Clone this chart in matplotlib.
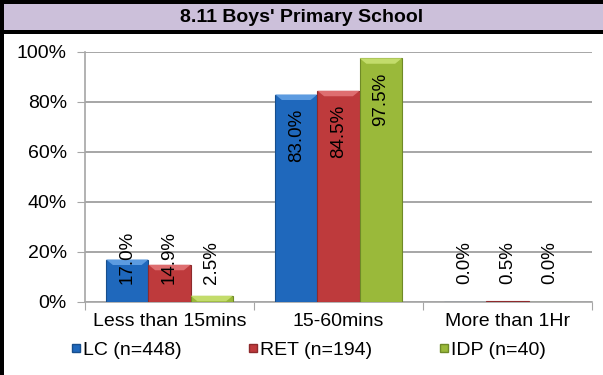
import numpy as np
import matplotlib.pyplot as plt
import matplotlib.patches as mpatches
from matplotlib.lines import Line2D

plt.rcParams['font.family'] = ['Liberation Sans', 'DejaVu Sans']

categories = ["Less than 15mins", "15-60mins", "More than 1Hr"]
series_names = ["LC (n=448)", "RET (n=194)", "IDP (n=40)"]
lc = [17.0, 83.0, 0.0]
ret = [14.9, 84.5, 0.5]
idp = [2.5, 97.5, 0.0]
yticks = [0, 20, 40, 60, 80, 100]

values = [lc, ret, idp]
fills = ["#1F68BC", "#BE3A3C", "#9AB93A"]
edges = ["#174E8C", "#8E2A2C", "#6F8A27"]
tops = ["#5C9BE0", "#DE6E70", "#C3DC6B"]

W, H = 603, 375
fig = plt.figure(figsize=(W / 100, H / 100), dpi=100)

# title band and frame
frame = fig.add_axes([0, 0, 1, 1])
frame.set_xlim(0, W)
frame.set_ylim(H, 0)
frame.axis("off")
frame.add_patch(mpatches.Rectangle((0, 3), W, 28, facecolor="#CCC0DA", edgecolor="none"))
frame.add_patch(mpatches.Rectangle((0, 0), W, 3.5, facecolor="black", edgecolor="none"))
frame.add_patch(mpatches.Rectangle((0, 30), W, 3.5, facecolor="black", edgecolor="none"))
frame.add_patch(mpatches.Rectangle((0, 0), 3.5, H, facecolor="black", edgecolor="none"))
frame.text(302, 17.5, "8.11 Boys' Primary School", ha="center", va="center",
           fontsize=14, fontweight="bold")

# plot area: x 85..592, y 52..302 in pixels
ax = fig.add_axes([85 / W, 1 - 302 / H, (592 - 85) / W, (302 - 52) / H])
ax.set_xlim(0, 3)
ax.set_ylim(0, 100)
ax.set_facecolor("none")

bw = 0.25
for i, (vals, fc, ec, tc) in enumerate(zip(values, fills, edges, tops)):
    x = np.arange(3) + 0.5 + (i - 1) * bw
    ax.bar(x, vals, width=bw, color=fc, edgecolor=ec, linewidth=0.8, zorder=3)
    # light bevel on top of each bar
    for xi, v in zip(x, vals):
        if v > 2:
            ax.add_patch(mpatches.Polygon(
                [(xi - bw / 2, v), (xi + bw / 2, v), (xi + bw / 2 - 0.04, v - 2.2),
                 (xi - bw / 2 + 0.04, v - 2.2)],
                closed=True, facecolor=tc, edgecolor="none", zorder=4))
    for xi, v in zip(x, vals):
        if v > 50:
            ax.text(xi, v - 5.6, f"{v:.1f}%", rotation=90, ha="center", va="top",
                    fontsize=13.5, zorder=5)
        else:
            ax.text(xi, 7.2, f"{v:.1f}%", rotation=90, ha="center", va="bottom",
                    fontsize=13.5, zorder=5)

ax.set_yticks(yticks)
ax.set_yticklabels([f"{t}%" for t in yticks], fontsize=14)
ax.yaxis.grid(True, color="#A6A6A6", linewidth=1.4, zorder=0)
ax.set_axisbelow(True)
ax.tick_params(axis="y", length=6, color="#A6A6A6", pad=7)

ax.set_xticks([0, 1, 2, 3])
ax.set_xticklabels([])
ax.set_xticks([0.5, 1.5, 2.5], minor=True)
ax.set_xticklabels(categories, minor=True, fontsize=14)
ax.tick_params(axis="x", which="major", length=6, color="#A6A6A6")
ax.tick_params(axis="x", which="minor", length=0, pad=8)

for side in ["top", "right"]:
    ax.spines[side].set_visible(False)
for side in ["left", "bottom"]:
    ax.spines[side].set_color("#A6A6A6")
    ax.spines[side].set_linewidth(1.2)

handles = [Line2D([], [], marker="s", linestyle="none", markersize=6,
                  markerfacecolor=fc, markeredgecolor=ec) for fc, ec in zip(fills, edges)]
fig.legend(handles, series_names, loc="center left", bbox_to_anchor=(70 / W, 1 - 350 / H),
           ncol=3, frameon=False, fontsize=14, handletextpad=0.05, columnspacing=3.4,
           handlelength=0.6, borderpad=0, borderaxespad=0)

fig.savefig("out.png", dpi=100)
